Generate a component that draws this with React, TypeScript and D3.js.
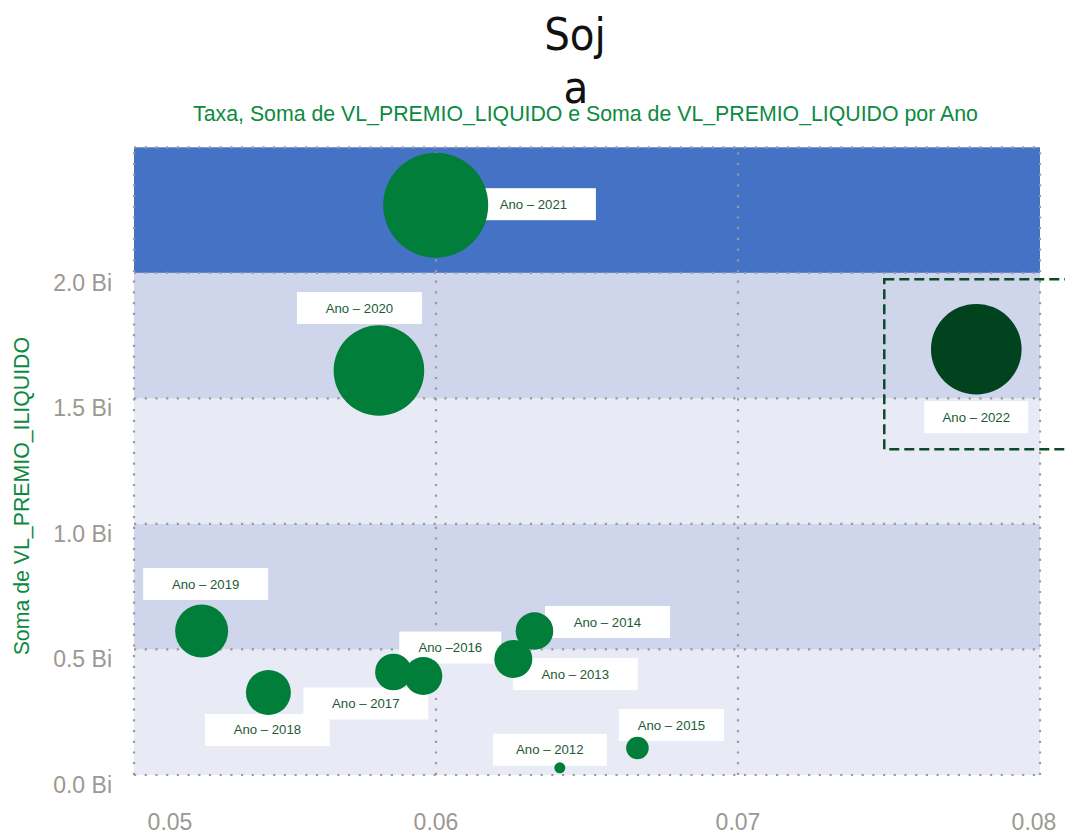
import React from 'react';
import * as d3 from 'd3';

// ---- data ----
const years = [2012, 2013, 2014, 2015, 2016, 2017, 2018, 2019, 2020, 2021, 2022];
const taxa = [0.0641, 0.06256, 0.06326, 0.06667, 0.05958, 0.05859, 0.05445, 0.05224, 0.05811, 0.05999, 0.07789];
const premioLiquidoBi = [0.0287, 0.462, 0.5735, 0.1075, 0.3943, 0.4102, 0.3286, 0.5735, 1.611, 2.2694, 1.6959];
const bubbleSizeBi = [0.025, 0.297, 0.291, 0.105, 0.297, 0.276, 0.417, 0.578, 1.69, 2.27, 1.69];
const labelTexts = ['Ano – 2012', 'Ano – 2013', 'Ano – 2014', 'Ano – 2015', 'Ano –2016', 'Ano – 2017', 'Ano – 2018', 'Ano – 2019', 'Ano – 2020', 'Ano – 2021', 'Ano – 2022'];
const xTicks = [0.05, 0.06, 0.07, 0.08];
const yTicks = [0, 0.5, 1, 1.5, 2];
const gridY = [0, 0.5, 1, 1.5, 2, 2.5];
const bandStops = [0, 0.5, 1, 1.5, 2, 2.5];
const selectedYear = 2022;

// ---- layout / style ----
const W = 1065;
const H = 835;
const bandColors = ['#E8EBF6', '#CFD5EA', '#E8EBF6', '#CFD5EA', '#4472C4'];
// label box centre offset from bubble centre, and box width
const labelLayout = [
  { dx: -10, dy: -18, w: 114 },
  { dx: 62, dy: 15, w: 125 },
  { dx: 73, dy: -9, w: 125 },
  { dx: 34, dy: -23, w: 105 },
  { dx: 27, dy: -28.5, w: 102 },
  { dx: -27.6, dy: 31.5, w: 125 },
  { dx: -1, dy: 37.5, w: 125 },
  { dx: 4, dy: -47, w: 125 },
  { dx: -19.5, dy: -62.5, w: 125 },
  { dx: 97.7, dy: -1, w: 125 },
  { dx: 0, dy: 68, w: 104 },
];

const GREEN = '#007E3A';
const DARK_GREEN = '#02431F';
const GRID = '#9C9A98';
const TICK = '#9C9892';

export default function App() {
  const x = d3.scaleLinear().domain([0.05, 0.08]).range([134, 1040]);
  const y = d3.scaleLinear().domain([0, 2.5]).range([775, 147.3]);
  const r = d3.scaleSqrt().domain([0, d3.max(bubbleSizeBi) as number]).range([0, 52.5]);
  const fmtY = (v: number) => `${d3.format('.1f')(v)} Bi`;
  const fmtX = d3.format('.2f');

  const points = years.map((yr, i) => ({
    yr,
    cx: x(taxa[i]),
    cy: y(premioLiquidoBi[i]),
    rad: r(bubbleSizeBi[i]),
    label: labelTexts[i],
    lay: labelLayout[i],
  }));
  const sel = points.find((p) => p.yr === selectedYear)!;

  const [x0, x1] = x.range();
  const [yb, yt] = y.range();

  return (
    <svg
      width={W}
      height={H}
      style={{ position: 'absolute', left: 0, top: 0, background: '#fff' }}
      fontFamily="'Liberation Sans', Arial, sans-serif"
    >
      {/* title */}
      <text textAnchor="middle" fontFamily="'DejaVu Sans Condensed', 'DejaVu Sans', sans-serif" fontSize={45} fill="#111">
        <tspan x={575} y={50}>Soj</tspan>
        <tspan x={576} y={103}>a</tspan>
      </text>
      <text x={585.5} y={121} textAnchor="middle" fontSize={21.3} fill="#0B8A40">
        Taxa, Soma de VL_PREMIO_LIQUIDO e Soma de VL_PREMIO_LIQUIDO por Ano
      </text>

      {/* bands */}
      {bandColors.map((c, i) => (
        <rect
          key={i}
          x={x0}
          width={x1 - x0}
          y={y(bandStops[i + 1])}
          height={y(bandStops[i]) - y(bandStops[i + 1])}
          fill={c}
        />
      ))}

      {/* grid */}
      {gridY.map((v) => (
        <line key={'gy' + v} x1={x0} x2={x1} y1={y(v)} y2={y(v)} stroke={GRID} strokeWidth={2.2} strokeDasharray="2.2 8.5" />
      ))}
      {xTicks.map((v) => (
        <line key={'gx' + v} x1={x(v)} x2={x(v)} y1={yb} y2={yt} stroke={GRID} strokeWidth={2.2} strokeDasharray="2.2 8.5" />
      ))}

      {/* y ticks */}
      {yTicks.map((v) => (
        <text key={'yt' + v} x={112} y={y(v) + 10} textAnchor="end" dominantBaseline="central" fontSize={23} fill={TICK}>
          {fmtY(v)}
        </text>
      ))}
      {/* x ticks */}
      {xTicks.map((v) => {
        const px = Math.min(Math.max(x(v), 170), 1034);
        return (
          <text key={'xt' + v} x={px} y={822} textAnchor="middle" dominantBaseline="central" fontSize={23} fill={TICK}>
            {fmtX(v)}
          </text>
        );
      })}

      {/* y axis title */}
      <text
        transform={`translate(29, ${(yb + yt) / 2 + 35}) rotate(-90)`}
        textAnchor="middle"
        fontSize={21.3}
        fill="#0B8A40"
      >
        Soma de VL_PREMIO_ILIQUIDO
      </text>

      {/* label boxes */}
      {points.map((p) => {
        const bx = p.cx + p.lay.dx;
        const by = p.cy + p.lay.dy;
        return (
          <g key={'l' + p.yr}>
            <rect x={bx - p.lay.w / 2} y={by - 16} width={p.lay.w} height={32} fill="#fff" />
            <text x={bx} y={by} textAnchor="middle" dominantBaseline="central" fontSize={13.2} fill="#1D5A36">
              {p.label}
            </text>
          </g>
        );
      })}

      {/* bubbles */}
      {points.map((p) => (
        <circle key={'c' + p.yr} cx={p.cx} cy={p.cy} r={p.rad} fill={p.yr === selectedYear ? DARK_GREEN : GREEN} />
      ))}

      {/* selection box */}
      <rect
        x={sel.cx - 92}
        y={sel.cy - 70}
        width={200}
        height={170}
        fill="none"
        stroke="#0D4A26"
        strokeWidth={2.5}
        strokeDasharray="10 5"
      />
    </svg>
  );
}
